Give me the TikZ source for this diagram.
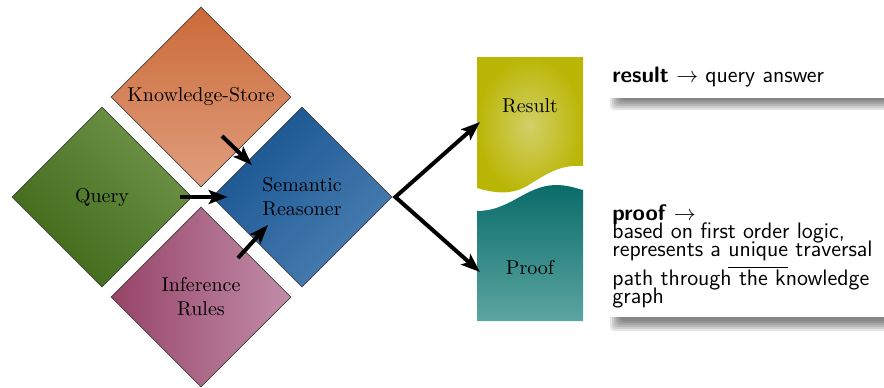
\documentclass[tikz,border=0pt]{standalone}
\usetikzlibrary{shapes.geometric,arrows.meta,calc}
\definecolor{ksTop}{HTML}{CB6A38}
\definecolor{ksBot}{HTML}{E09E7E}
\definecolor{qDark}{HTML}{3E6818}
\definecolor{qLight}{HTML}{6E9448}
\definecolor{srDark}{HTML}{185492}
\definecolor{srLight}{HTML}{4A7FB1}
\definecolor{irDark}{HTML}{974467}
\definecolor{irLight}{HTML}{C18DA9}
\definecolor{resEdge}{HTML}{BAB606}
\definecolor{resMid}{HTML}{D2D068}
\definecolor{prTop}{HTML}{0A6C69}
\definecolor{prBot}{HTML}{5CA5A2}
% underline set lower than the default one
\newcommand\noteul[1]{\setbox0\hbox{#1}\rlap{\rule[-5.5pt]{\wd0}{0.45pt}}\box0\relax}
% tight-set sans serif for the annotations
\newcommand\notefont{\sffamily\fontsize{11.2}{9}\selectfont\lineskiplimit=-2pt\relax}
\begin{document}
\begin{tikzpicture}[x=0.5pt,y=-0.5pt,
  >={Stealth[length=9.5pt,width=7pt,inset=2pt]},
  diam/.style={diamond, aspect=1, minimum width=90pt, minimum height=90pt,
    inner sep=0pt, draw=black!75, line width=0.35pt, align=center},
  arr/.style={line width=2pt, ->},
  note/.style={font=\notefont, inner sep=0pt, align=left},
  shadowlayer/.style={fill=black, opacity=0.1, rounded corners=2pt}]
\useasboundingbox (0,0) rectangle (884,387);

% the four input/processing diamonds
\node[diam, top color=ksTop, bottom color=ksBot] (ks) at (201,97) {Knowledge-Store};
\node[diam, top color=qLight, bottom color=qDark, shading angle=-45] (query) at (102,197) {Query};
\node[diam, top color=srDark, bottom color=srLight, shading angle=45] (sr) at (302,197) {Semantic\\Reasoner};
\node[diam, left color=irDark, right color=irLight] (ir) at (201,297) {Inference\\Rules};

% output sheets with wavy edges
\shade[inner color=resMid, outer color=resEdge]
  (477,57) -- (583,57) -- (583,166)
  .. controls (560,164) and (545,175) .. (527,186)
  .. controls (515,193) and (500,195) .. (477,188) -- cycle;
\shade[top color=prTop, bottom color=prBot]
  (477,211) .. controls (510,211) and (525,186) .. (555,185)
  .. controls (568,185) and (575,188) .. (583,190)
  -- (583,321) -- (477,321) -- cycle;
\node (result) at (530,106) {Result};
\node (proof) at (530,268) {Proof};

% arrows into the reasoner
\draw[arr] ([shift={(21,39)}]ks.center) -- ([shift={(-50,-32)}]sr.center);
\draw[arr] ([shift={(78,0)}]query.center) -- ([shift={(16,0)}]sr.west);
\draw[arr] ([shift={(37,-39)}]ir.center) -- ([shift={(-34,28)}]sr.center);

% forked arrow to result and proof
\coordinate (fork) at ([shift={(3,0)}]sr.east);
\draw[line width=2pt, line join=miter, <->]
  ([shift={(-50,16)}]result.center) -- (fork) -- ([shift={(-50,4)}]proof.center);

% annotation boxes with soft shadows
\foreach \i in {0,...,5} {
  \fill[shadowlayer] (610+2*\i,88) rectangle (900,110-2*\i);
  \fill[shadowlayer] (610+2*\i,307) rectangle (900,331-2*\i);
}
\fill[white] (604,56) rectangle (900,98);
\fill[white] (604,198) rectangle (900,317);
\node[note, anchor=base west] (resnote) at (612,82) {\textbf{result} $\rightarrow$ query answer};
\node[note, anchor=north west] (proofnote) at (612,204.5)
  {\textbf{proof} $\rightarrow$\\based on first order logic,\\represents a \noteul{unique} traversal\\path through the knowledge\\graph};
\end{tikzpicture}
\end{document}
